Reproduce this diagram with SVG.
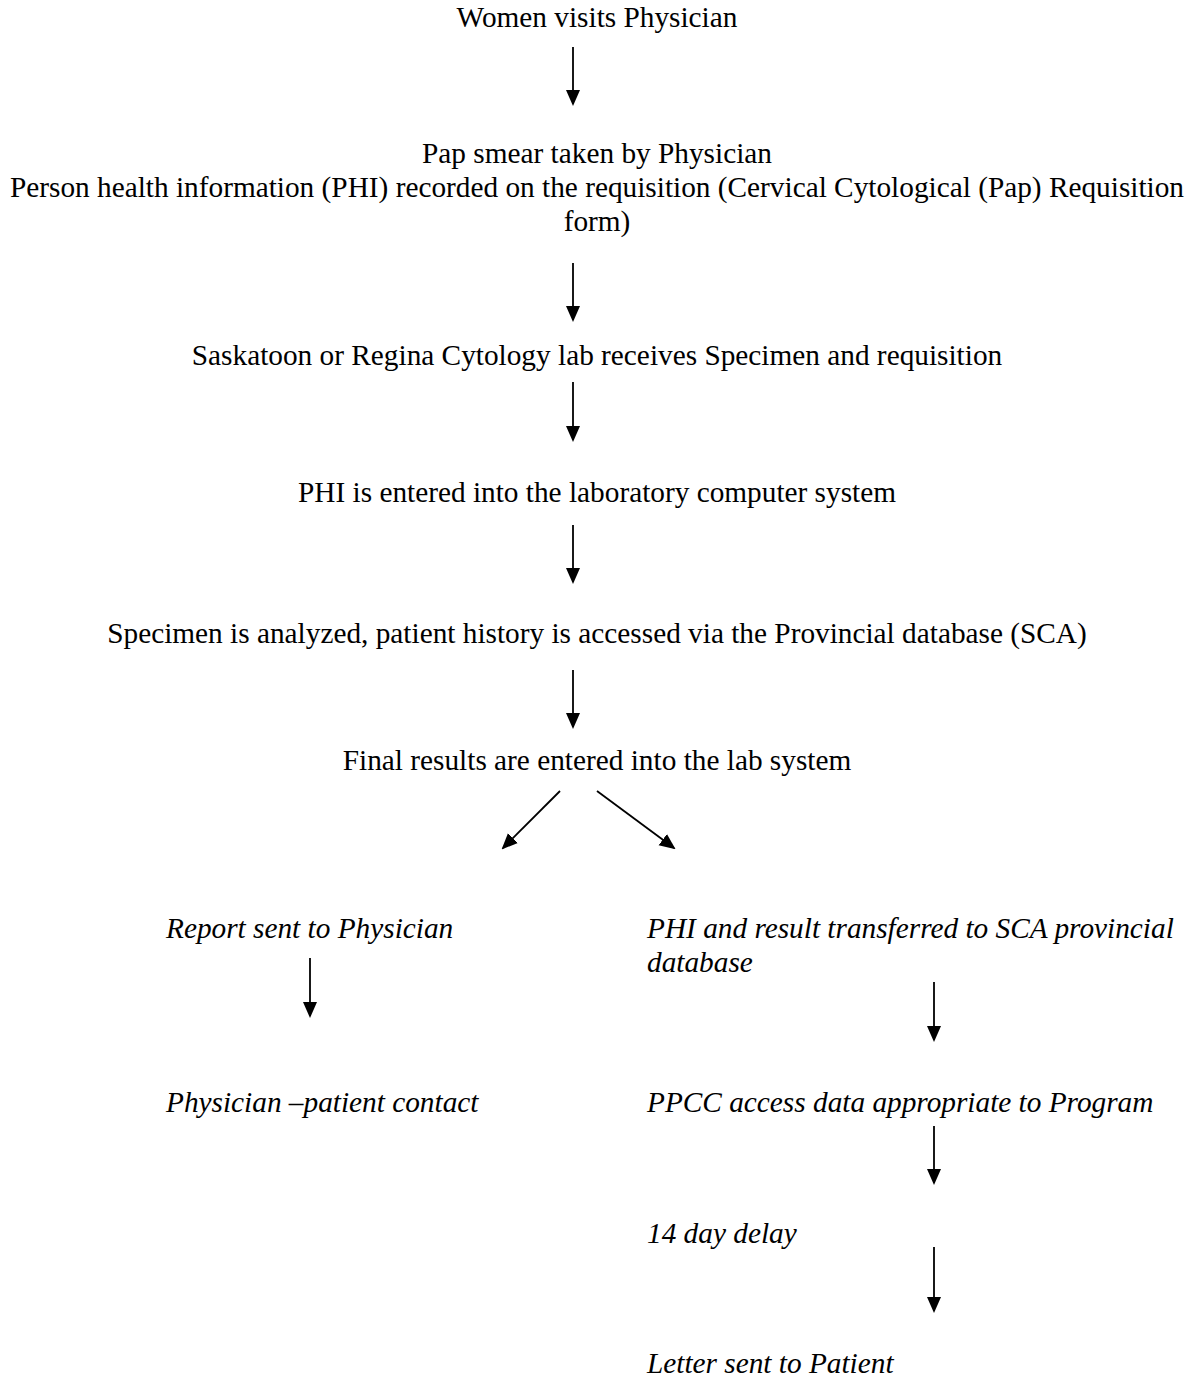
<svg xmlns="http://www.w3.org/2000/svg" width="1195" height="1380" viewBox="0 0 1195 1380">
<defs>
<style>
text{font-family:"Liberation Serif","Times New Roman",serif;font-size:29.3px;fill:#000}
.c{text-anchor:middle}
.i{font-style:italic}
.a{stroke:#000;stroke-width:1.8;fill:none;marker-end:url(#ah)}
</style>
<marker id="ah" viewBox="0 0 16 16" refX="14" refY="8" markerWidth="16" markerHeight="16" markerUnits="userSpaceOnUse" orient="auto">
<path d="M0,1 L16,8 L0,15 z" fill="#000"/>
</marker>
</defs>
<rect width="1195" height="1380" fill="#fff"/>
<g id="n1"><text class="c" x="597" y="27">Women visits Physician</text></g>
<g id="n2">
<text class="c" x="597" y="163">Pap smear taken by Physician</text>
<text class="c" x="597" y="197">Person health information (PHI) recorded on the requisition (Cervical Cytological (Pap) Requisition</text>
<text class="c" x="597" y="231">form)</text>
</g>
<g id="n3"><text class="c" x="597" y="365">Saskatoon or Regina Cytology lab receives Specimen and requisition</text></g>
<g id="n4"><text class="c" x="597" y="502">PHI is entered into the laboratory computer system</text></g>
<g id="n5"><text class="c" x="597" y="643">Specimen is analyzed, patient history is accessed via the Provincial database (SCA)</text></g>
<g id="n6"><text class="c" x="597" y="770">Final results are entered into the lab system</text></g>
<g id="n7"><text class="i" x="166" y="938">Report sent to Physician</text></g>
<g id="n8"><text class="i" x="647" y="938">PHI and result transferred to SCA provincial</text><text class="i" x="647" y="972">database</text></g>
<g id="n9"><text class="i" x="166" y="1112">Physician –patient contact</text></g>
<g id="n10"><text class="i" x="647" y="1112">PPCC access data appropriate to Program</text></g>
<g id="n11"><text class="i" x="647" y="1243">14 day delay</text></g>
<g id="n12"><text class="i" x="647" y="1373">Letter sent to Patient</text></g>
<g id="connectors">
<line class="a" x1="573" y1="47" x2="573" y2="104"/>
<line class="a" x1="573" y1="263" x2="573" y2="320"/>
<line class="a" x1="573" y1="382" x2="573" y2="440"/>
<line class="a" x1="573" y1="525" x2="573" y2="582"/>
<line class="a" x1="573" y1="670" x2="573" y2="727"/>
<line class="a" x1="560" y1="791" x2="503" y2="848"/>
<line class="a" x1="597" y1="791" x2="674" y2="848"/>
<line class="a" x1="310" y1="958" x2="310" y2="1016"/>
<line class="a" x1="934" y1="982" x2="934" y2="1040"/>
<line class="a" x1="934" y1="1126" x2="934" y2="1183"/>
<line class="a" x1="934" y1="1247" x2="934" y2="1311"/>
</g>
</svg>
